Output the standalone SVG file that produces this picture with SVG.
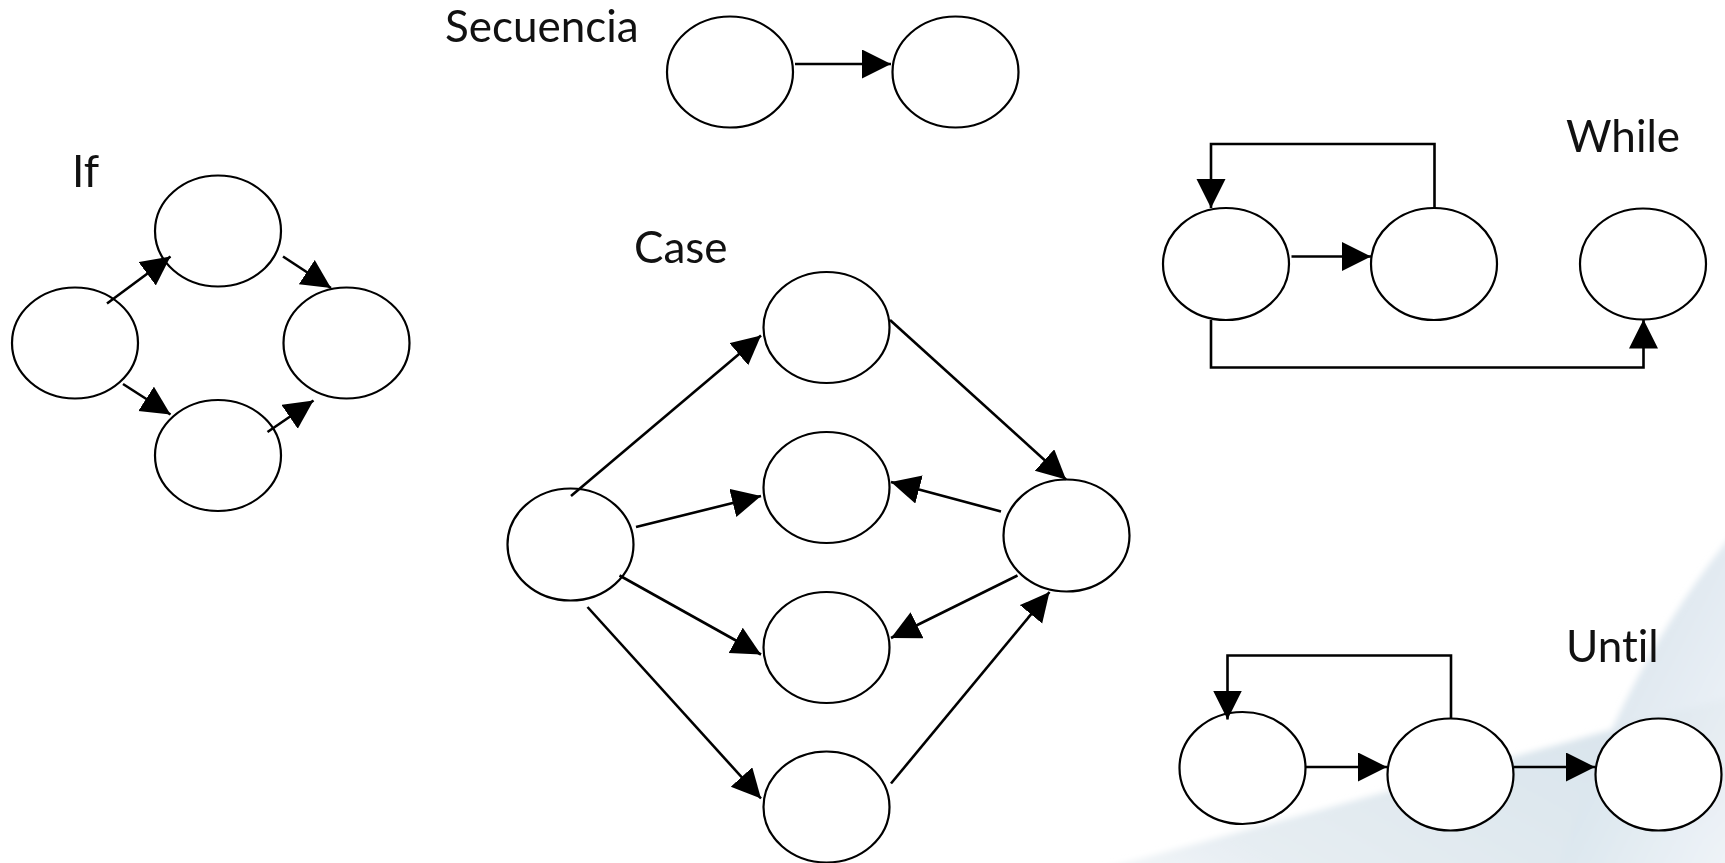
<svg xmlns="http://www.w3.org/2000/svg" width="1725" height="863" viewBox="0 0 1725 863">
  <style>
    .node { fill: #ffffff; stroke: #000000; stroke-width: 2.2; }
    .edge { fill: none; stroke: #000000; stroke-width: 2.6; }
    .arrow { marker-end: url(#head); }
    .label { font-family: Lato, "Open Sans", "Liberation Sans", sans-serif; font-size: 44px; fill: #111111; font-variant-ligatures: none; }
  </style>
  <defs>
    <marker id="head" markerUnits="userSpaceOnUse" markerWidth="32" markerHeight="32" refX="29" refY="14.5" orient="auto">
      <path d="M0,0 L29,14.5 L0,29 Z" fill="#000000"/>
    </marker>
    <linearGradient id="washGrad" x1="0" y1="1" x2="1" y2="0.5">
      <stop offset="0" stop-color="#eef2f6" stop-opacity="0.6"/>
      <stop offset="0.3" stop-color="#e6edf2"/>
      <stop offset="1" stop-color="#d9e4ec"/>
    </linearGradient>
    <linearGradient id="streakGrad" x1="0" y1="0" x2="1" y2="1">
      <stop offset="0" stop-color="#c8d8e4"/>
      <stop offset="0.5" stop-color="#dde7ef"/>
      <stop offset="1" stop-color="#f4f7fa"/>
    </linearGradient>
    <filter id="soft" x="-10%" y="-10%" width="120%" height="120%">
      <feGaussianBlur stdDeviation="3"/>
    </filter>
  </defs>

  <!-- background swoosh, bottom right -->
  <g id="background">
    <rect x="0" y="0" width="1725" height="863" fill="#ffffff"/>
    <g filter="url(#soft)">
      <path d="M 1060,880 C 1280,822 1480,765 1740,695 L 1740,880 Z" fill="url(#washGrad)"/>
      <path d="M 1740,525 C 1665,615 1600,730 1555,880 L 1740,880 Z" fill="url(#streakGrad)" opacity="0.85"/>
    </g>
  </g>

  <!-- titles -->
  <g id="labels">
    <text class="label" x="445" y="42">Secuencia</text>
    <text class="label" x="72" y="187">If</text>
    <text class="label" x="634" y="263">Case</text>
    <text class="label" x="1566" y="152">While</text>
    <text class="label" x="1566" y="662">Until</text>
  </g>

  <!-- Secuencia -->
  <g id="seq-a"><ellipse class="node" cx="730" cy="72" rx="63" ry="55.5"/></g>
  <g id="seq-b"><ellipse class="node" cx="955.5" cy="72" rx="63" ry="55.5"/></g>

  <!-- If -->
  <g id="if-start"><ellipse class="node" cx="75" cy="343" rx="63" ry="55.5"/></g>
  <g id="if-then"><ellipse class="node" cx="218" cy="231" rx="63" ry="55.5"/></g>
  <g id="if-else"><ellipse class="node" cx="218" cy="455.5" rx="63" ry="55.5"/></g>
  <g id="if-end"><ellipse class="node" cx="346.5" cy="343" rx="63" ry="55.5"/></g>

  <!-- Case -->
  <g id="case-start"><ellipse class="node" cx="570.5" cy="544.5" rx="63" ry="56"/></g>
  <g id="case-1"><ellipse class="node" cx="826.5" cy="327.5" rx="63" ry="55.5"/></g>
  <g id="case-2"><ellipse class="node" cx="826.5" cy="487.5" rx="63" ry="55.5"/></g>
  <g id="case-3"><ellipse class="node" cx="826.5" cy="647.5" rx="63" ry="55.5"/></g>
  <g id="case-4"><ellipse class="node" cx="826.5" cy="807" rx="63" ry="55.5"/></g>
  <g id="case-end"><ellipse class="node" cx="1066.5" cy="535.5" rx="63" ry="56"/></g>

  <!-- While -->
  <g id="while-test"><ellipse class="node" cx="1226" cy="264" rx="63" ry="56"/></g>
  <g id="while-body"><ellipse class="node" cx="1434" cy="264" rx="63" ry="56"/></g>
  <g id="while-exit"><ellipse class="node" cx="1643" cy="264" rx="63" ry="55.5"/></g>

  <!-- Until -->
  <g id="until-body"><ellipse class="node" cx="1242.5" cy="768" rx="63" ry="56"/></g>
  <g id="until-test"><ellipse class="node" cx="1450.5" cy="774.5" rx="63" ry="56"/></g>
  <g id="until-exit"><ellipse class="node" cx="1658.5" cy="774.5" rx="63" ry="56"/></g>

  <g id="connectors">
    <!-- Secuencia -->
    <line class="edge arrow" x1="795" y1="64" x2="891" y2="64"/>

    <!-- If -->
    <line class="edge arrow" x1="107" y1="303.5" x2="170.5" y2="256.5"/>
    <line class="edge arrow" x1="283" y1="256.5" x2="331" y2="288"/>
    <line class="edge arrow" x1="123" y1="384" x2="170.5" y2="414.5"/>
    <line class="edge arrow" x1="267.5" y1="432" x2="313.5" y2="400.5"/>

    <!-- Case -->
    <line class="edge arrow" x1="571" y1="496" x2="761" y2="335.5"/>
    <line class="edge arrow" x1="636" y1="527" x2="761" y2="496"/>
    <line class="edge arrow" x1="619.5" y1="575.5" x2="761" y2="654.5"/>
    <line class="edge arrow" x1="587.5" y1="607" x2="761" y2="798.5"/>
    <line class="edge arrow" x1="890" y1="320" x2="1066" y2="479.5"/>
    <line class="edge arrow" x1="1001" y1="511.5" x2="891" y2="482"/>
    <line class="edge arrow" x1="1017.5" y1="575.5" x2="891" y2="638"/>
    <line class="edge arrow" x1="891" y1="783.5" x2="1049.5" y2="592"/>

    <!-- While -->
    <line class="edge arrow" x1="1291.5" y1="256.5" x2="1371" y2="256.5"/>
    <polyline class="edge arrow" points="1434.5,208 1434.5,144 1211,144 1211,208"/>
    <polyline class="edge arrow" points="1211,320 1211,367.5 1643.5,367.5 1643.5,319.5"/>

    <!-- Until -->
    <line class="edge arrow" x1="1306" y1="767" x2="1387" y2="767"/>
    <line class="edge arrow" x1="1514" y1="767" x2="1595" y2="767"/>
    <polyline class="edge arrow" points="1451,718.5 1451,655.5 1227.5,655.5 1227.5,719.5"/>
  </g>
</svg>
